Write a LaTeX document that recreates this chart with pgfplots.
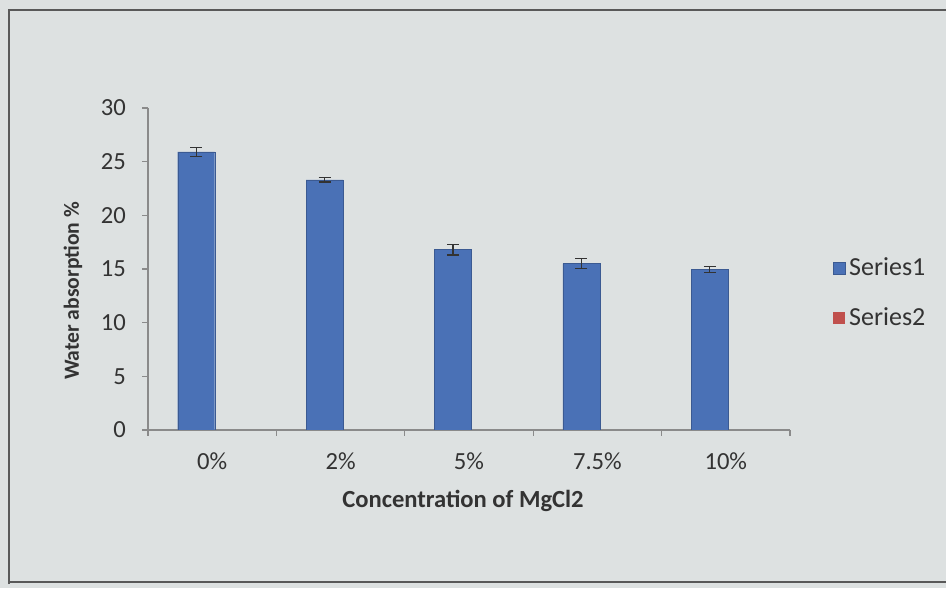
\documentclass[border=0pt]{standalone}
\usepackage{pgfplots}
\pgfplotsset{compat=1.18}
\usepackage{fontspec}
\setmainfont{Carlito}
\definecolor{bg}{HTML}{DDE1E1}
\definecolor{barblue}{HTML}{4A71B6}
\definecolor{barred}{HTML}{C0504D}
\definecolor{axgray}{HTML}{8A8A8A}
\definecolor{txt}{HTML}{333333}
\begin{document}
\begin{tikzpicture}[x=0.5pt,y=0.5pt]
\useasboundingbox (0,0) rectangle (946,588);
\fill[bg] (0,0) rectangle (946,588);
\draw[gray!70!black, line width=0.6pt] (9,4) -- (9,578) -- (946,578);
\draw[gray!70!black, line width=0.6pt] (9,6) -- (946,6);
\begin{axis}[
  at={(74pt,79pt)}, anchor=south west,
  scale only axis, width=321pt, height=161pt,
  xmin=-0.5, xmax=4.5, ymin=0, ymax=30,
  axis lines*=left,
  axis line style={axgray, line width=0.6pt},
  ybar, bar width=18.5pt, bar shift=-8pt,
  xtick={0,1,2,3,4},
  xticklabels={0\%,2\%,5\%,7.5\%,10\%},
  major x tick style={draw=none},
  minor xtick={-0.5,0.5,1.5,2.5,3.5,4.5},
  minor x tick style={axgray, line width=0.6pt},
  minor tick length=3pt,
  ytick={0,5,...,30},
  y tick style={axgray, line width=0.6pt},
  major tick length=3pt,
  tick align=outside,
  tick label style={font=\fontsize{12.3}{14}\selectfont, text=txt},
  xticklabel style={yshift=-5pt},
  yticklabel style={xshift=-4.5pt},
  /pgf/number format/assume math mode=true,
  xlabel={\textbf{Concentration of MgCl2}},
  ylabel={\textbf{Water absorption \%}},
  xlabel style={font=\fontsize{12.3}{14}\selectfont, text=txt, yshift=-3pt, xshift=-3pt},
  ylabel style={font=\fontsize{10.8}{12}\selectfont, text=txt, yshift=2.5pt, xshift=-11pt},
  legend style={at={(rel axis cs:1.066,0.425)}, anchor=west, draw=none, fill=none,
    font=\fontsize{13}{15}\selectfont, text=txt, row sep=10.5pt,
    legend cell align=left, inner sep=0pt},
  legend image code/.code={\fill[#1] (0pt,-3pt) rectangle (6pt,3pt);},
]
\addplot[fill=barblue, draw=barblue!80!black, line width=0.2pt,
  error bars/.cd, y dir=both, y explicit,
  error bar style={black!80, line width=0.6pt},
  error mark options={black!80, line width=0.6pt, mark size=3pt, rotate=90}]
  coordinates {
  (0,25.9) +- (0,0.45)
  (1,23.3) +- (0,0.2)
  (2,16.8) +- (0,0.5)
  (3,15.5) +- (0,0.45)
  (4,14.95) +- (0,0.25)
};
\addlegendentry{Series1}
\addlegendimage{fill=barred, draw=none}
\addlegendentry{Series2}
\end{axis}
\end{tikzpicture}
\end{document}
